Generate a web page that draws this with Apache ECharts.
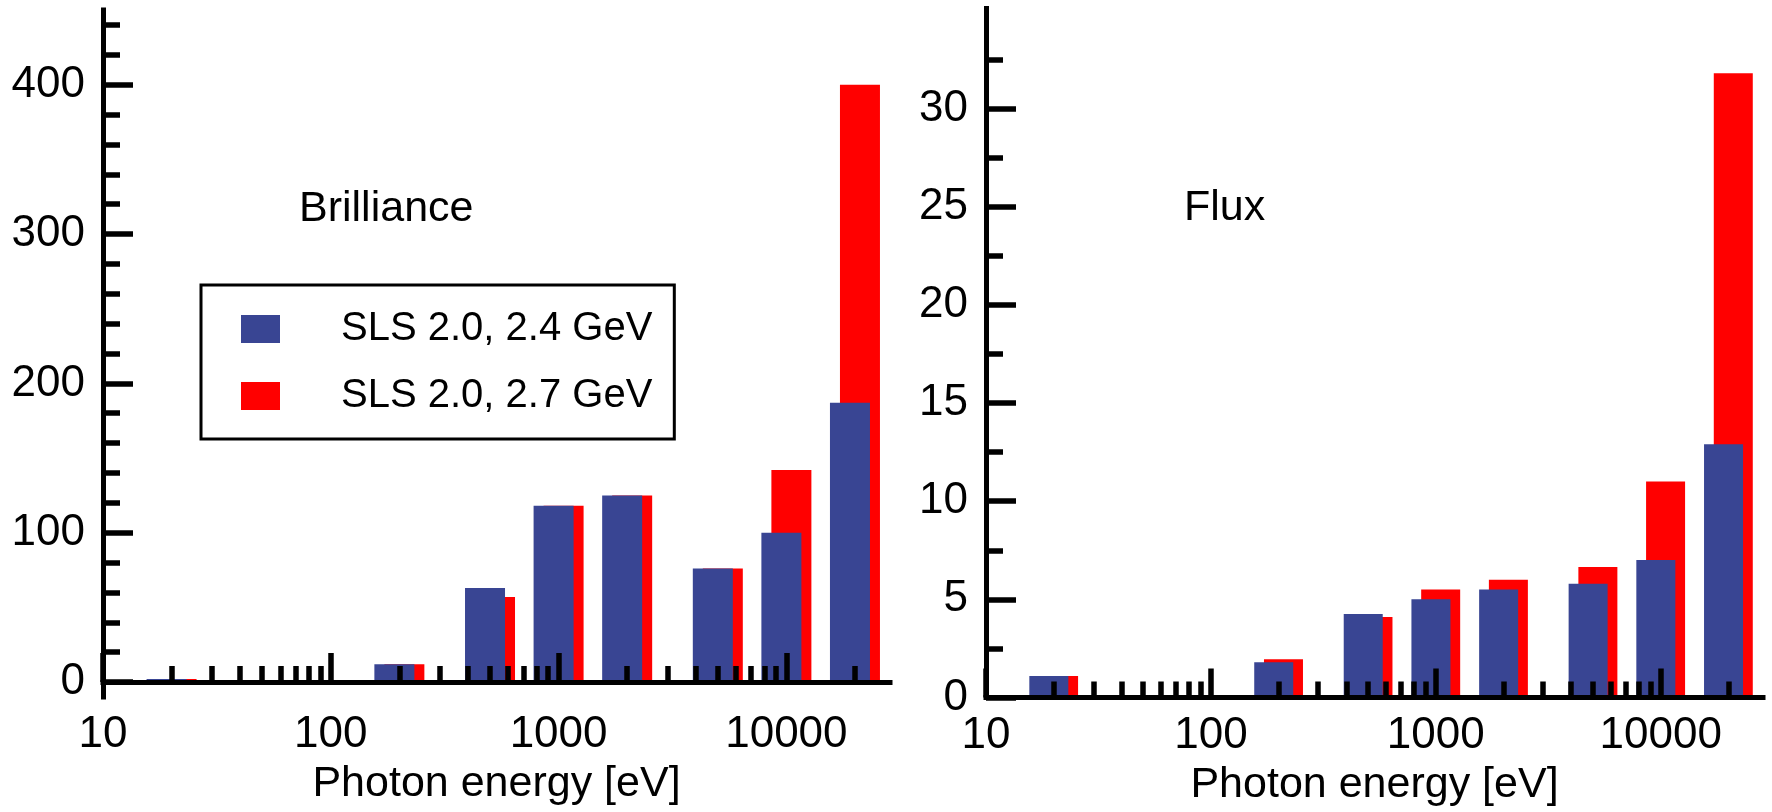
<!DOCTYPE html>
<html>
<head>
<meta charset="utf-8">
<script src="https://cdn.jsdelivr.net/npm/echarts@6/dist/echarts.min.js"></script>
<style>
html,body{margin:0;padding:0;background:#ffffff;}
#chart{width:1772px;height:812px;}
</style>
</head>
<body>
<div id="chart"></div>
<script>
// ---------------- data ----------------
const energies = [20, 200, 500, 1000, 2000, 5000, 10000, 20000];
const seriesNames = ['SLS 2.0, 2.4 GeV', 'SLS 2.0, 2.7 GeV'];
const brillianceBlue = [2, 12, 63, 118, 125, 76, 100, 187];
const brillianceRed  = [2, 12, 57, 118, 125, 76, 142, 400];
const fluxBlue = [1.1, 1.8, 4.25, 5.0, 5.5, 5.8, 7.0, 12.9];
const fluxRed  = [1.1, 1.95, 4.1, 5.5, 6.0, 6.65, 11.0, 31.8];
const panelTitles = ['Brilliance', 'Flux'];
const xAxisName = 'Photon energy [eV]';
const xMajorTicks = [10, 100, 1000, 10000];
const xMinorTicks = [20, 30, 40, 50, 60, 70, 80, 90,
                     200, 300, 400, 500, 600, 700, 800, 900,
                     2000, 3000, 4000, 5000, 6000, 7000, 8000, 9000,
                     20000];
const brillianceMajorTicks = [0, 100, 200, 300, 400];
const brillianceMinorTicks = [20, 40, 60, 80, 120, 140, 160, 180, 220, 240, 260, 280,
                              320, 340, 360, 380, 420, 440];
const fluxMajorTicks = [0, 5, 10, 15, 20, 25, 30];
const fluxMinorTicks = [2.5, 7.5, 12.5, 17.5, 22.5, 27.5, 32.5];

// ---------------- styling ----------------
const FONT = '"Liberation Sans", Arial, Helvetica, sans-serif';
const BLUE = '#394593';
const RED = '#ff0000';
const AXW = 5;
const TKW = 5.5;
const LBL = 44;

function xMajor(grid) {
  return {
    type: 'log', logBase: 10, gridIndex: grid, min: 10, max: 28500, position: 'bottom', z: 10,
    axisLine: {show: true, lineStyle: {color: '#000', width: AXW, cap: 'square'}},
    axisTick: {show: true, inside: true, length: 29, customValues: xMajorTicks,
               lineStyle: {color: '#000', width: TKW}},
    axisLabel: {show: true, customValues: xMajorTicks, margin: 16, fontSize: LBL, color: '#000',
                fontFamily: FONT, formatter: v => String(Math.round(v))},
    splitLine: {show: false}, minorTick: {show: false}, minorSplitLine: {show: false},
    name: xAxisName, nameLocation: 'middle', nameGap: 66,
    nameTextStyle: {fontSize: 43, color: '#000', fontFamily: FONT}
  };
}
function xMinor(grid) {
  return {
    type: 'log', logBase: 10, gridIndex: grid, min: 10, max: 28500, position: 'bottom', z: 10,
    axisLine: {show: false},
    axisTick: {show: true, inside: true, length: 16, customValues: xMinorTicks,
               lineStyle: {color: '#000', width: TKW}},
    axisLabel: {show: false}, splitLine: {show: false}
  };
}
function yMajor(grid, min, max, ticks) {
  return {
    type: 'value', gridIndex: grid, min: min, max: max, position: 'left', z: 10,
    axisLine: {show: true, lineStyle: {color: '#000', width: AXW, cap: 'square'}},
    axisTick: {show: true, inside: true, length: 30, customValues: ticks,
               lineStyle: {color: '#000', width: TKW}},
    axisLabel: {show: true, customValues: ticks, margin: 18, fontSize: LBL, color: '#000',
                fontFamily: FONT},
    splitLine: {show: false}
  };
}
function yMinor(grid, min, max, ticks) {
  return {
    type: 'value', gridIndex: grid, min: min, max: max, position: 'left', z: 10,
    axisLine: {show: false},
    axisTick: {show: true, inside: true, length: 17, customValues: ticks,
               lineStyle: {color: '#000', width: TKW}},
    axisLabel: {show: false}, splitLine: {show: false}
  };
}
function bars(name, color, z, xi, yi, values, width) {
  return {
    type: 'bar', name: name, xAxisIndex: xi, yAxisIndex: yi, z: z,
    barWidth: width, barGap: '-75%',
    itemStyle: {color: color},
    data: energies.map((e, i) => [e, values[i]])
  };
}

const chart = echarts.init(document.getElementById('chart'), null, {renderer: 'canvas'});
chart.setOption({
  animation: false,
  backgroundColor: '#ffffff',
  textStyle: {fontFamily: FONT},
  grid: [
    {left: 103, top: 10, width: 787, height: 687, containLabel: false, outerBoundsMode: 'none'},
    {left: 986, top: 8.5, width: 777, height: 689, containLabel: false, outerBoundsMode: 'none'}
  ],
  xAxis: [xMajor(0), xMinor(0), xMajor(1), xMinor(1)],
  yAxis: [
    yMajor(0, -10, 450, brillianceMajorTicks), yMinor(0, -10, 450, brillianceMinorTicks),
    yMajor(1, 0, 35.1, fluxMajorTicks), yMinor(1, 0, 35.1, fluxMinorTicks)
  ],
  legend: {
    data: seriesNames, orient: 'vertical', left: 201, top: 285,
    padding: [24, 22, 23, 40], itemWidth: 39, itemHeight: 28, itemGap: 27,
    icon: 'rect', borderColor: '#000', borderWidth: 3, selectedMode: false,
    textStyle: {fontSize: 40, color: '#000', fontFamily: FONT, padding: [0, 0, 0, 56]}
  },
  graphic: [
    {type: 'text', x: 299, y: 209, z: 20,
     style: {text: panelTitles[0], fontSize: 43, fill: '#000', fontFamily: FONT, verticalAlign: 'middle', align: 'left'}},
    {type: 'text', x: 1184, y: 208, z: 20,
     style: {text: panelTitles[1], fontSize: 43, fill: '#000', fontFamily: FONT, verticalAlign: 'middle', align: 'left'}}
  ],
  series: [
    bars(seriesNames[0], BLUE, 3, 0, 0, brillianceBlue, 40),
    bars(seriesNames[1], RED, 2, 0, 0, brillianceRed, 40),
    bars(seriesNames[0], BLUE, 3, 2, 2, fluxBlue, 39),
    bars(seriesNames[1], RED, 2, 2, 2, fluxRed, 39)
  ]
});
</script>
</body>
</html>
